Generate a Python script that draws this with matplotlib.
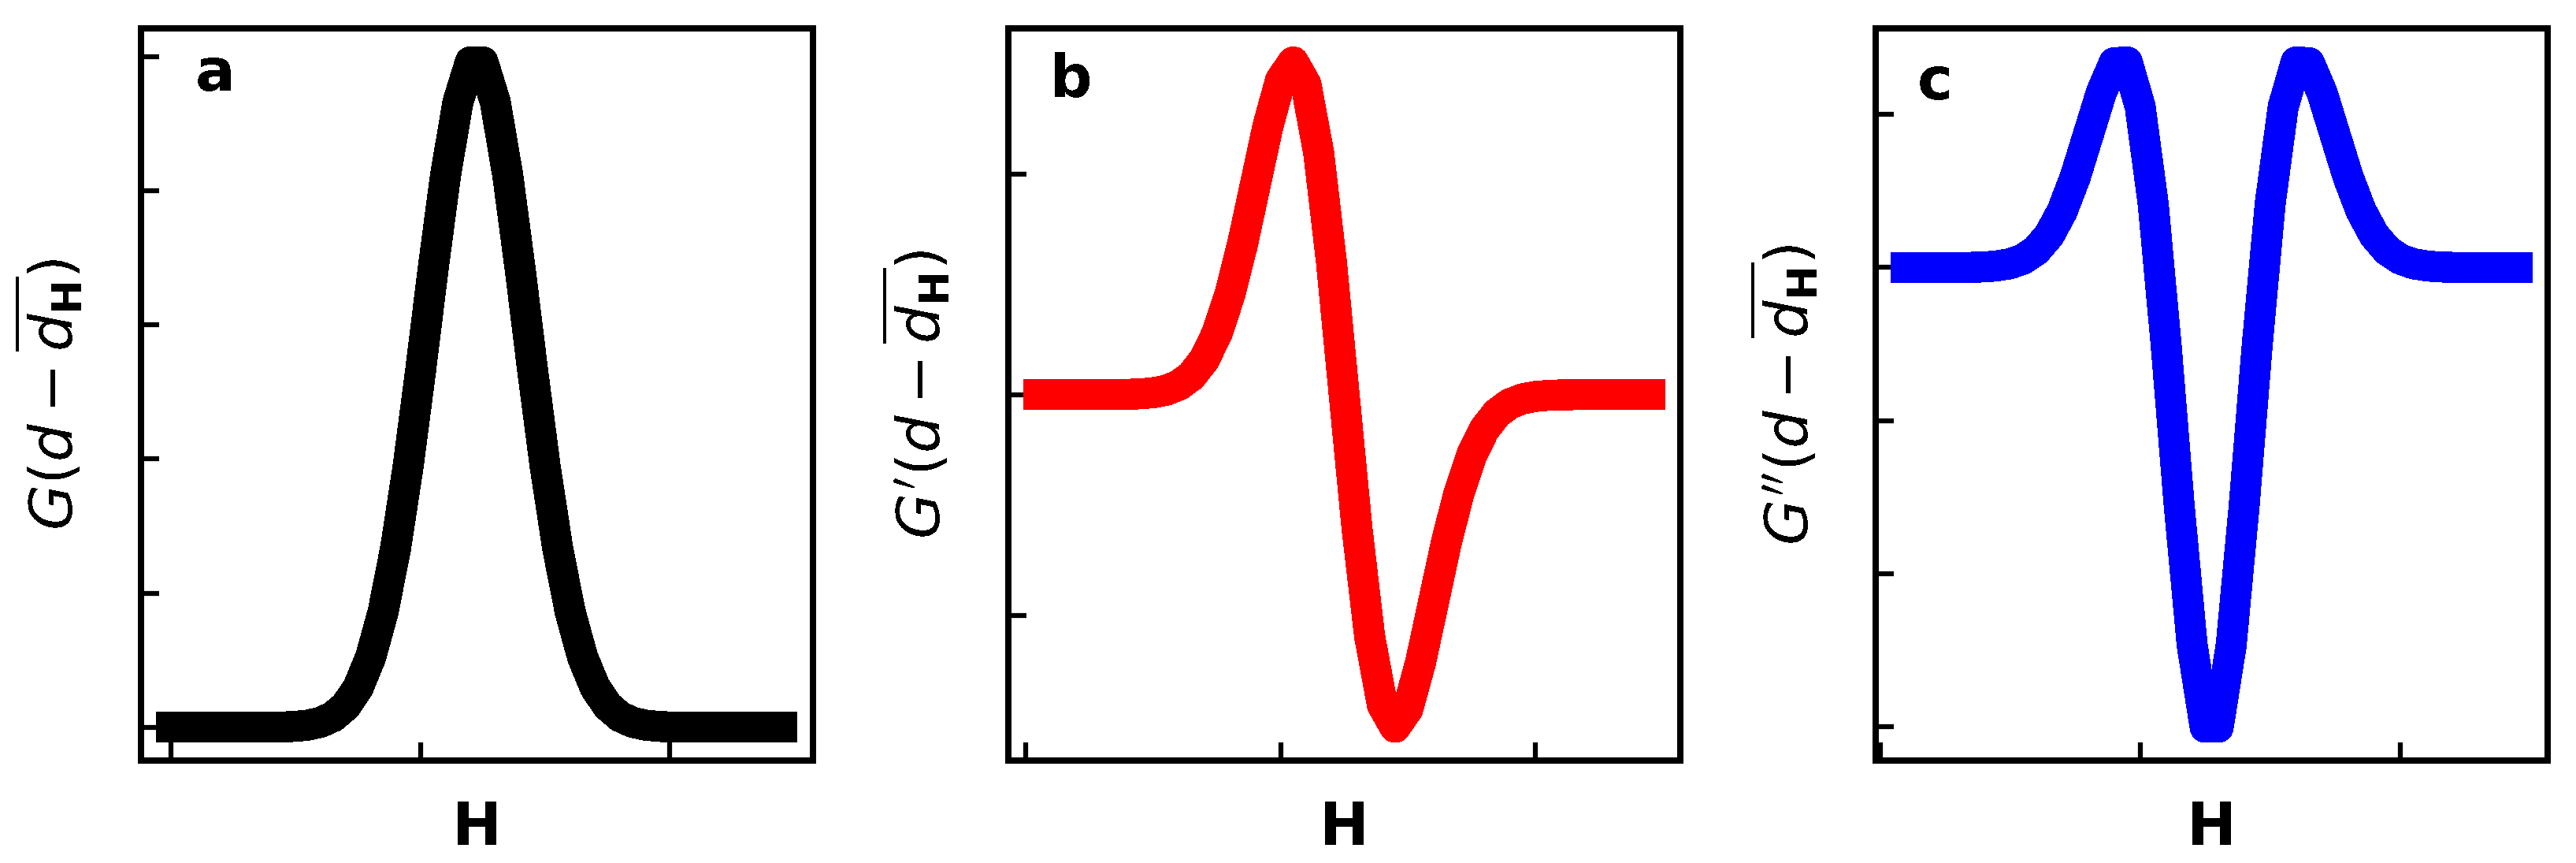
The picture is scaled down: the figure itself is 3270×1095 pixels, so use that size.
import matplotlib
matplotlib.use("Agg")
import matplotlib.pyplot as plt
import numpy as np

x_g = np.arange(0, 50)
g_vals = [0.0, 0.0, 0.0, 0.0, 0.0, 0.00001, 0.00002, 0.00007, 0.0002, 0.00055,
          0.0014, 0.00336, 0.00758, 0.01604, 0.03189, 0.05957, 0.10458, 0.17242, 0.26705, 0.38857,
          0.53109, 0.68194, 0.82258, 0.9321, 0.99222, 0.99222, 0.9321, 0.82258, 0.68194, 0.53109,
          0.38857, 0.26705, 0.17242, 0.10458, 0.05957, 0.03189, 0.01604, 0.00758, 0.00336, 0.0014,
          0.00055, 0.0002, 0.00007, 0.00002, 0.00001, 0.0, 0.0, 0.0, 0.0, 0.0]

x_d1 = np.arange(1, 50)
d1_vals = [0.0, 0.0, 0.0, 0.0, 0.00001, 0.00002, 0.00005, 0.00013, 0.00035, 0.00085,
           0.00196, 0.00422, 0.00846, 0.01585, 0.02768, 0.04501, 0.06784, 0.09463, 0.12152, 0.14252,
           0.15085, 0.14064, 0.10952, 0.06012, 0.0, -0.06012, -0.10952, -0.14064, -0.15085, -0.14252,
           -0.12152, -0.09463, -0.06784, -0.04501, -0.02768, -0.01585, -0.00846, -0.00422, -0.00196, -0.00085,
           -0.00035, -0.00013, -0.00005, -0.00002, -0.00001, 0.0, 0.0, 0.0, 0.0]

x_d2 = np.arange(2, 50)
d2_vals = [0.0, 0.0, 0.0, 0.00001, 0.00001, 0.00003, 0.00008, 0.00022, 0.0005, 0.00111,
           0.00226, 0.00424, 0.00739, 0.01183, 0.01733, 0.02283, 0.02679, 0.02689, 0.021, 0.00833,
           -0.01021, -0.03112, -0.0494, -0.06012, -0.06012, -0.0494, -0.03112, -0.01021, 0.00833, 0.021,
           0.02689, 0.02679, 0.02283, 0.01733, 0.01183, 0.00739, 0.00424, 0.00226, 0.00111, 0.0005,
           0.00022, 0.00008, 0.00003, 0.00001, 0.00001, 0.0, 0.0, 0.0]

xticks = [0, 20, 40]
yticks_a = [0.0, 0.2, 0.4, 0.6, 0.8, 1.0]
yticks_b = [-0.1, 0.0, 0.1]
yticks_c = [-0.06, -0.04, -0.02, 0.0, 0.02]

ylabels = [r'$G(d - \overline{d_{\mathbf{H}}})$',
           r"$G'(d - \overline{d_{\mathbf{H}}})$",
           r"$G''(d - \overline{d_{\mathbf{H}}})$"]
letters = ['a', 'b', 'c']
letter_pos = [(0.081, 0.915), (0.062, 0.907), (0.062, 0.904)]
colors = ['black', 'red', 'blue']

# the original looks rendered without antialiasing
plt.rcParams['lines.antialiased'] = False
plt.rcParams['text.antialiased'] = False
plt.rcParams['patch.antialiased'] = False

fig, axes = plt.subplots(1, 3, figsize=(10.9, 3.65), dpi=300)
fig.subplots_adjust(left=0.0546, right=0.989, bottom=0.1187, top=0.9668, wspace=0.291)

series = [(x_g, g_vals, yticks_a), (x_d1, d1_vals, yticks_b), (x_d2, d2_vals, yticks_c)]

for i, ax in enumerate(axes):
    xs, ys, yt = series[i]
    ax.plot(xs, ys, color=colors[i], lw=9.2)
    ax.set_xticks(xticks)
    ax.set_yticks(yt)
    ax.set_xticklabels([])
    ax.set_yticklabels([])
    ax.tick_params(direction='in', length=5.5, width=1.5)
    for s in ax.spines.values():
        s.set_linewidth(1.5)
    ax.set_ylabel(ylabels[i], fontsize=18, labelpad=13)
    ax.set_xlabel('H', fontsize=18, fontweight='bold', labelpad=8.5)
    ax.text(letter_pos[i][0], letter_pos[i][1], letters[i], transform=ax.transAxes,
            fontsize=18, fontweight='bold', ha='left', va='baseline')

fig.savefig('out.png', dpi=300)
